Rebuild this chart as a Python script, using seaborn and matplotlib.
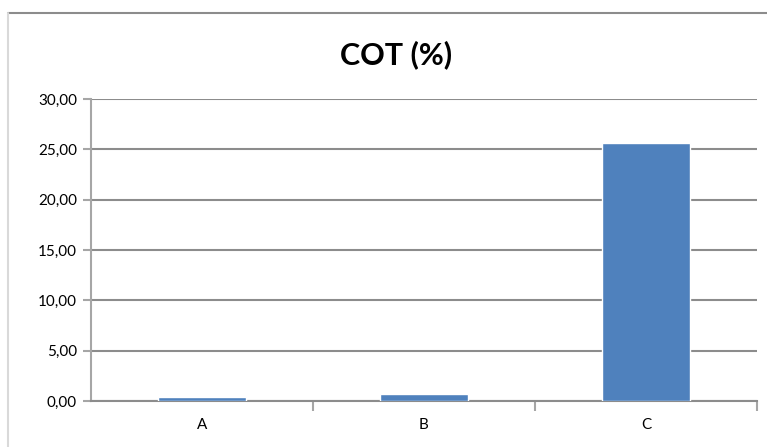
import matplotlib
matplotlib.use("Agg")
import matplotlib.pyplot as plt
from matplotlib.ticker import FuncFormatter, MultipleLocator
from matplotlib.lines import Line2D
import seaborn as sns
import pandas as pd

categories = ["A", "B", "C"]
cot_values = [0.37, 0.70, 25.65]
title = "COT (%)"

sns.set_theme(style="white")
plt.rcParams["font.family"] = ["Lato", "DejaVu Sans"]

df = pd.DataFrame({"cat": categories, "cot": cot_values})

fig = plt.figure(figsize=(7.67, 4.47), dpi=100)
ax = fig.add_axes([91 / 767, 1 - 401 / 447, (757 - 91) / 767, (401 - 99) / 447])

grid_color = "#8c8c8c"
sns.barplot(data=df, x="cat", y="cot", color="#4F81BD", width=0.4,
            saturation=1, ax=ax, zorder=3)

ax.set_ylim(0, 30)
ax.set_xlim(-0.5, 2.5)
ax.yaxis.set_major_locator(MultipleLocator(5))
ax.yaxis.set_major_formatter(FuncFormatter(lambda v, p: f"{v:.2f}".replace(".", ",")))
ax.grid(axis="y", color=grid_color, linewidth=1.5, zorder=0)
ax.set_axisbelow(True)
ax.set_xlabel("")
ax.set_ylabel("")

for side in ["top", "right"]:
    ax.spines[side].set_visible(False)
ax.spines["left"].set_color("#a6a6a6")
ax.spines["left"].set_linewidth(1.5)
ax.spines["bottom"].set_color(grid_color)
ax.spines["bottom"].set_linewidth(1.5)

ax.tick_params(axis="y", which="major", length=6, width=1.5, color="#a6a6a6",
               labelsize=11, pad=4, left=True, labelcolor="black")
ax.tick_params(axis="x", which="major", length=0, labelsize=11, pad=12,
               labelcolor="black")
# category separator ticks on the x axis
ax.set_xticks([0.5, 1.5, 2.5], minor=True)
ax.tick_params(axis="x", which="minor", length=7, width=1.5, color="#a6a6a6", bottom=True)

fig.text(396 / 767, 1 - 55 / 447, title, fontsize=22, fontweight="bold",
         color="black", ha="center", va="center")

# chart frame lines
fig.add_artist(Line2D([8 / 767, 1], [1 - 13 / 447, 1 - 13 / 447], color="#8c8c8c",
                      linewidth=1.5, transform=fig.transFigure))
fig.add_artist(Line2D([8 / 767, 8 / 767], [0, 1 - 13 / 447], color="#d9d9d9",
                      linewidth=1.5, transform=fig.transFigure))

fig.savefig("out.png", dpi=100)
